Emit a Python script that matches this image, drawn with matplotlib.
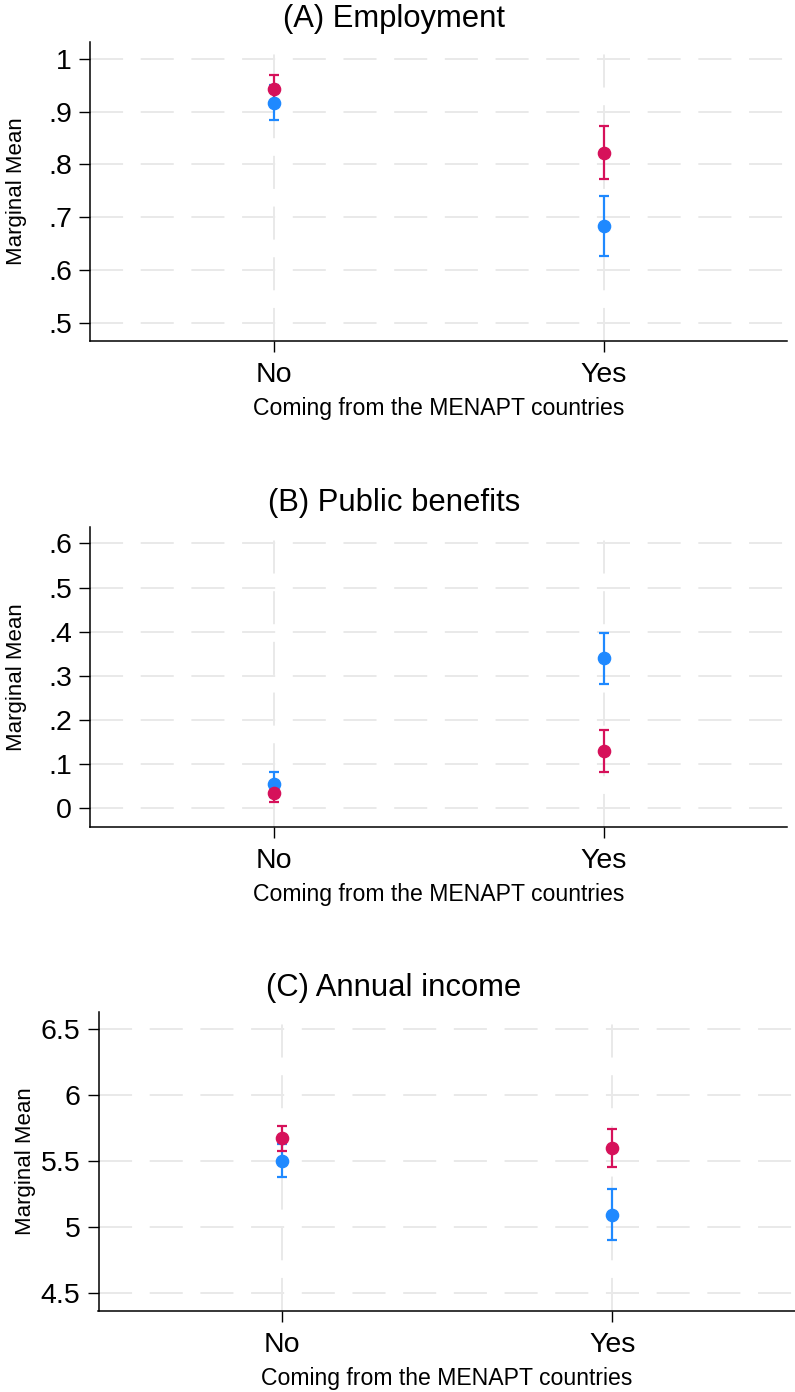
import matplotlib
matplotlib.use("Agg")
import matplotlib.pyplot as plt

plt.rcParams['font.family'] = ['Liberation Sans', 'DejaVu Sans']

categories = ["No", "Yes"]
xlabel_text = "Coming from the MENAPT countries"
ylabel_text = "Marginal Mean"

# Panel A: Employment
titleA = "(A) Employment"
blueA = [0.917, 0.683]
blueA_lo = [0.884, 0.626]
blueA_hi = [0.950, 0.740]
redA = [0.943, 0.821]
redA_lo = [0.915, 0.772]
redA_hi = [0.970, 0.872]
yticksA = [0.5, 0.6, 0.7, 0.8, 0.9, 1.0]
yticklabelsA = [".5", ".6", ".7", ".8", ".9", "1"]

# Panel B: Public benefits
titleB = "(B) Public benefits"
blueB = [0.054, 0.340]
blueB_lo = [0.026, 0.282]
blueB_hi = [0.082, 0.397]
redB = [0.034, 0.130]
redB_lo = [0.014, 0.082]
redB_hi = [0.054, 0.177]
yticksB = [0.0, 0.1, 0.2, 0.3, 0.4, 0.5, 0.6]
yticklabelsB = ["0", ".1", ".2", ".3", ".4", ".5", ".6"]

# Panel C: Annual income
titleC = "(C) Annual income"
blueC = [5.500, 5.089]
blueC_lo = [5.377, 4.897]
blueC_hi = [5.627, 5.286]
redC = [5.670, 5.594]
redC_lo = [5.573, 5.450]
redC_hi = [5.763, 5.740]
yticksC = [4.5, 5.0, 5.5, 6.0, 6.5]
yticklabelsC = ["4.5", "5", "5.5", "6", "6.5"]

BLUE = "#1f89ff"
RED = "#d6115a"
GRID = "#e9e9e9"

W, H = 795, 1392
fig = plt.figure(figsize=(W / 100, H / 100), dpi=100)

def frac_rect(left_px, top_px, bottom_px, width_px=697):
    return [left_px / W, 1 - bottom_px / H, width_px / W, (bottom_px - top_px) / H]

panels = [
    dict(rect=frac_rect(90, 42, 341), title=titleA, title_y=19, blue=(blueA, blueA_lo, blueA_hi),
         red=(redA, redA_lo, redA_hi), yt=yticksA, ytl=yticklabelsA, ylim=(0.465, 1.032)),
    dict(rect=frac_rect(90, 526.7, 826.7), title=titleB, title_y=503, blue=(blueB, blueB_lo, blueB_hi),
         red=(redB, redB_lo, redB_hi), yt=yticksB, ytl=yticklabelsB, ylim=(-0.042, 0.638)),
    dict(rect=frac_rect(98.5, 1011.7, 1311), title=titleC, title_y=988, blue=(blueC, blueC_lo, blueC_hi),
         red=(redC, redC_lo, redC_hi), yt=yticksC, ytl=yticklabelsC, ylim=(4.361, 6.629)),
]

glw = 1.4
dash = (0, (23.8 / glw, 12.7 / glw))

for p in panels:
    ax = fig.add_axes(p["rect"])
    x = list(range(len(categories)))
    for vals, col in [(p["blue"], BLUE), (p["red"], RED)]:
        m, lo, hi = vals
        yerr = [[mi - l for mi, l in zip(m, lo)], [h - mi for mi, h in zip(m, hi)]]
        ax.errorbar(x, m, yerr=yerr, fmt='o', color=col, ms=8.8, elinewidth=1.6,
                    capsize=3.9, capthick=1.6, zorder=3)
    ax.set_xlim(-0.557, 1.555)
    ax.set_ylim(*p["ylim"])
    ax.set_xticks(x)
    ax.set_xticklabels(categories, fontsize=20.5)
    ax.set_yticks(p["yt"])
    ax.set_yticklabels(p["ytl"], fontsize=20.5)
    ax.tick_params(axis='both', direction='out', length=8, width=1, color='black')
    ax.tick_params(axis='x', pad=7)
    ax.tick_params(axis='y', pad=5)
    ax.grid(True, color=GRID, lw=glw, linestyle=dash)
    ax.set_axisbelow(True)
    for s in ['top', 'right']:
        ax.spines[s].set_visible(False)
    for s in ['left', 'bottom']:
        ax.spines[s].set_linewidth(1.1)
    ax.set_xlabel(xlabel_text, fontsize=16.6, va='center')
    ax.xaxis.set_label_coords(0.5, -(68 / (p["rect"][3] * H)))
    ax.set_ylabel(ylabel_text, fontsize=16, va='center')
    ax.yaxis.set_label_coords(-(73 / 697), 0.5)
    fig.text(0.4956, 1 - p["title_y"] / H, p["title"], fontsize=22.3, ha='center', va='center')

fig.savefig("out.png", dpi=100)
